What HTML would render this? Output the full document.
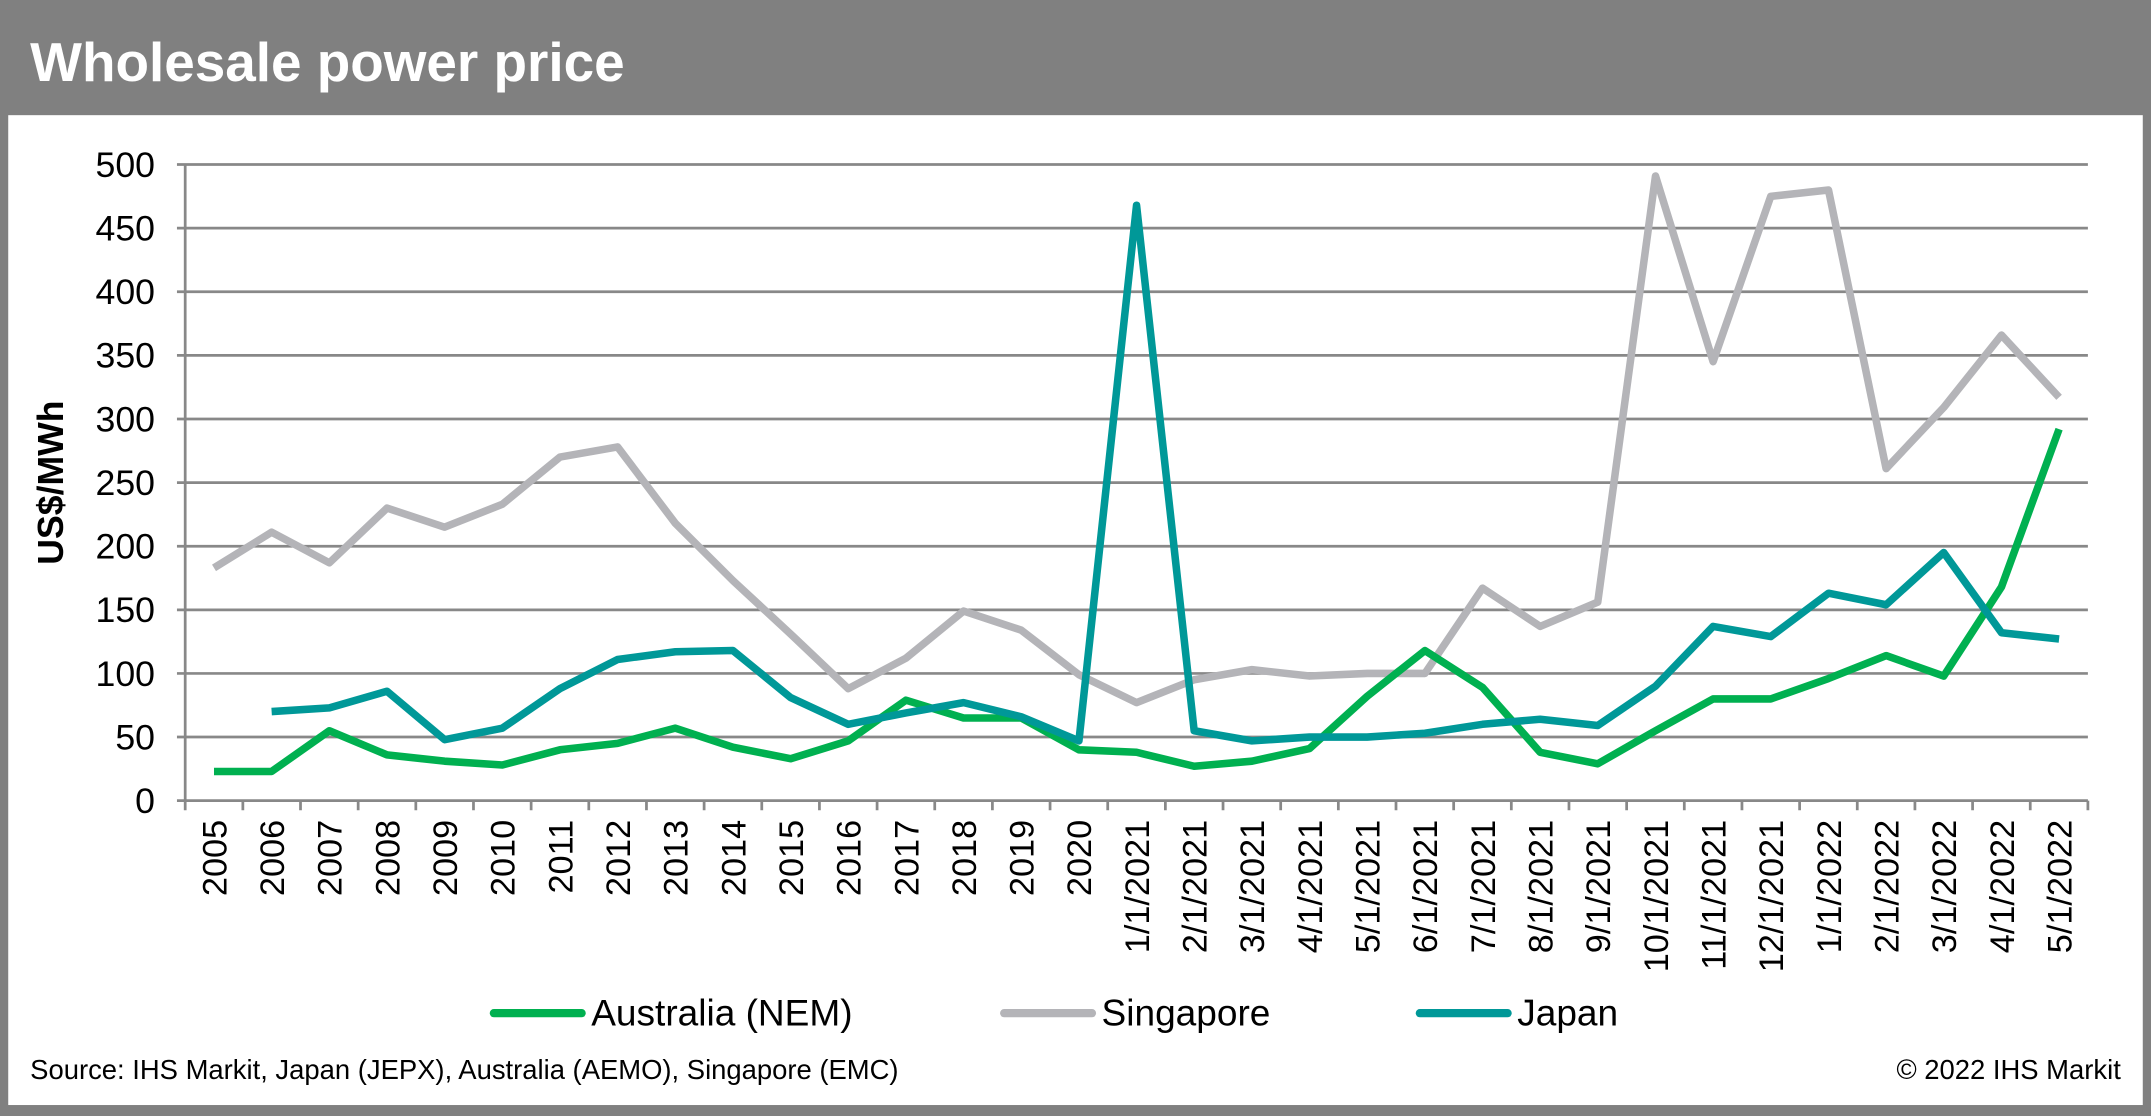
<!DOCTYPE html>
<html><head><meta charset="utf-8"><style>
html,body{margin:0;padding:0;background:#808080;}
svg{display:block;font-family:"Liberation Sans",Arial,sans-serif;}
</style></head><body>
<svg id="chart" width="2151" height="1116" viewBox="0 0 1568 814" preserveAspectRatio="none">
<rect x="0" y="0" width="1568" height="814" fill="#808080"/>
<text x="22" y="59" fill="#fff" font-size="40" font-weight="bold">Wholesale power price</text>
<rect x="6" y="84" width="1556" height="722" fill="#fff"/>
<g id="grid"></g><g id="axes"></g><g id="series"></g>
<text transform="translate(46,352) rotate(-90)" text-anchor="middle" font-size="26" font-weight="bold">US$/MWh</text>
<g>
<line x1="360" y1="739" x2="424" y2="739" stroke="#00b050" stroke-width="6" stroke-linecap="round"/>
<text x="431" y="748" font-size="27">Australia (NEM)</text>
<line x1="732" y1="739" x2="796" y2="739" stroke="#b4b4b8" stroke-width="6" stroke-linecap="round"/>
<text x="803" y="748" font-size="27">Singapore</text>
<line x1="1035" y1="739" x2="1099" y2="739" stroke="#009898" stroke-width="6" stroke-linecap="round"/>
<text x="1106" y="748" font-size="27">Japan</text>
</g>
<text x="22" y="787" font-size="20">Source: IHS Markit, Japan (JEPX), Australia (AEMO), Singapore (EMC)</text>
<text x="1546" y="787" font-size="20" text-anchor="end">© 2022 IHS Markit</text>
</svg>
<script>
const categories=["2005","2006","2007","2008","2009","2010","2011","2012","2013","2014","2015","2016","2017","2018","2019","2020","1/1/2021","2/1/2021","3/1/2021","4/1/2021","5/1/2021","6/1/2021","7/1/2021","8/1/2021","9/1/2021","10/1/2021","11/1/2021","12/1/2021","1/1/2022","2/1/2022","3/1/2022","4/1/2022","5/1/2022"];
const australia=[23,23,55,36,31,28,40,45,57,42,33,47,79,65,65,40,38,27,31,41,82,118,89,38,29,55,80,80,96,114,98,168,292];
const singapore=[183,211,187,230,215,233,270,278,218,173,131,88,112,149,134,99,77,95,103,98,100,100,167,137,156,491,345,475,480,261,309,366,317];
const japan=[null,70,73,86,48,57,88,111,117,118,81,60,69,77,66,47,468,55,47,50,50,53,60,64,59,90,137,129,163,154,195,132,127];
const yTicks=[0,50,100,150,200,250,300,350,400,450,500];
const NS="http://www.w3.org/2000/svg";
const X0=135,X1=1522,Y0=584,Y1=120,YMAX=500;
const step=(X1-X0)/categories.length;
function xPos(i){return X0+step*(i+0.5);}
function yPos(v){return Y0-(Y0-Y1)*v/YMAX;}
function mk(tag,attrs,parent){const e=document.createElementNS(NS,tag);for(const k in attrs)e.setAttribute(k,attrs[k]);parent.appendChild(e);return e;}
const grid=document.getElementById('grid'),axes=document.getElementById('axes'),ser=document.getElementById('series');
yTicks.forEach(t=>{
  const y=yPos(t);
  if(t>0){const l=mk('line',{x1:X0-6,y1:y,x2:X1,y2:y,stroke:'#888','stroke-width':2},grid);
  
  }
  const tx=mk('text',{x:113,y:y+9,'text-anchor':'end','font-size':26},axes);
  tx.textContent=t;
  
  
});
const xa=mk('line',{x1:X0-6,y1:Y0,x2:X1,y2:Y0,stroke:'#888','stroke-width':2},axes);


const ya=mk('line',{x1:X0,y1:Y1,x2:X0,y2:Y0,stroke:'#888','stroke-width':2},axes);


for(let i=0;i<=categories.length;i++){
  const x=X0+step*i;
  const tk=mk('line',{x1:x,y1:Y0,x2:x,y2:Y0+7,stroke:'#888','stroke-width':2},axes);
  
  
}
categories.forEach((c,i)=>{
  const x=xPos(i)+9;
  const tx=mk('text',{transform:`translate(${x},598) rotate(-90)`,'text-anchor':'end','font-size':25},axes);
  tx.textContent=c;
  
  
});
function drawLine(data,color,name){
  let d='',pen=false;
  data.forEach((v,i)=>{
    if(v==null){pen=false;return;}
    d+=(pen?'L':'M')+xPos(i).toFixed(1)+' '+yPos(v).toFixed(1)+' ';pen=true;
  });
  const p=mk('path',{d:d,fill:'none',stroke:color,'stroke-width':5.5,'stroke-linejoin':'round'},ser);
  
  
}
drawLine(singapore,'#b4b4b8','series-singapore');
drawLine(australia,'#00b050','series-australia');
drawLine(japan,'#009898','series-japan');
</script>
</body></html>
